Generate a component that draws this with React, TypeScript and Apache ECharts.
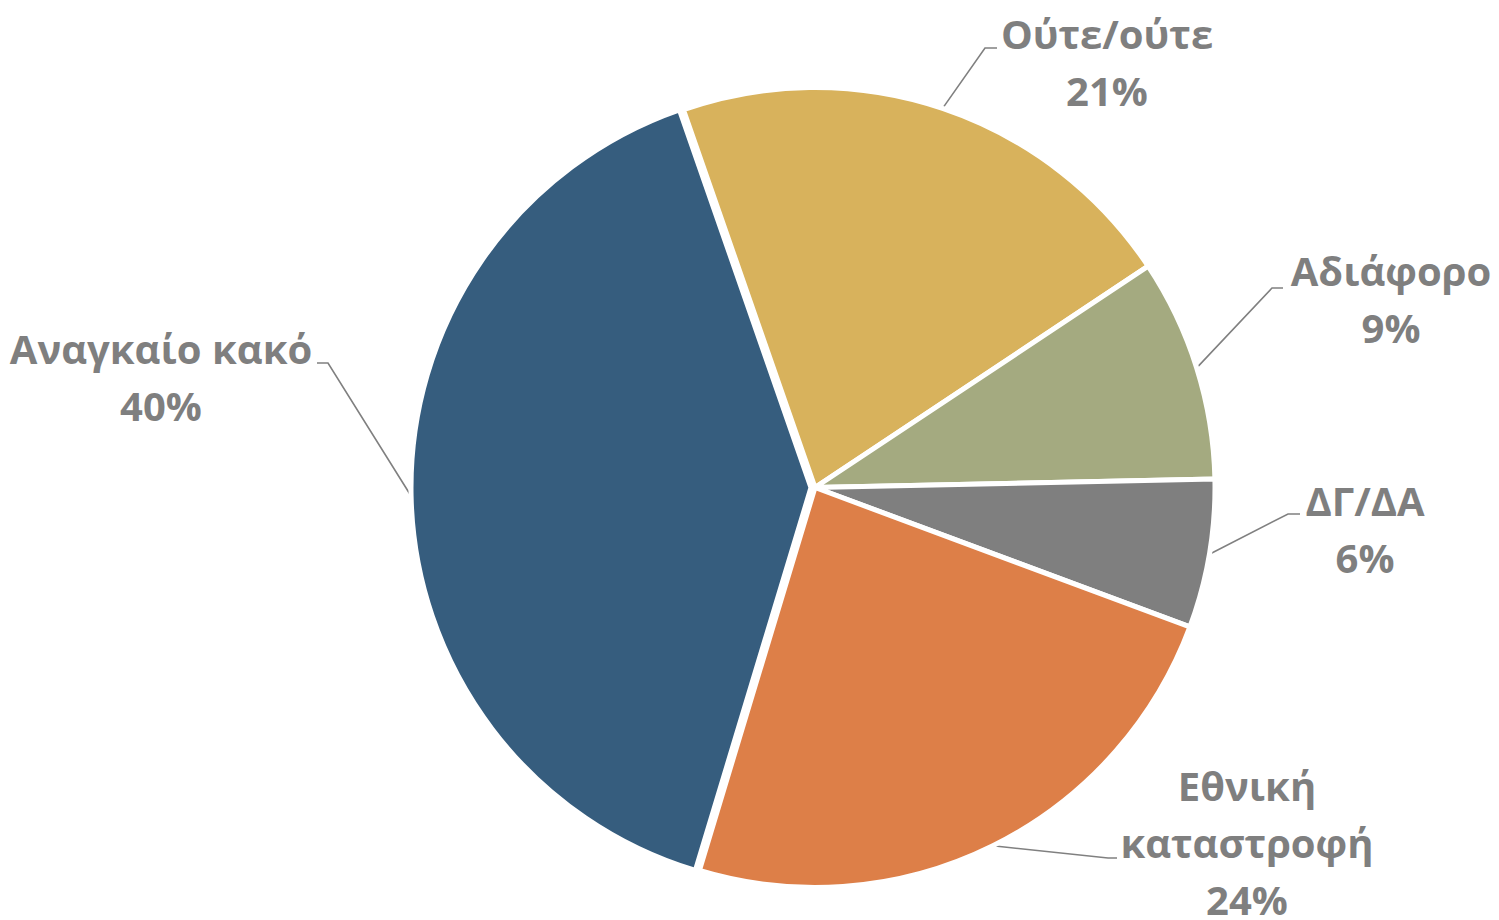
import React, { useEffect, useRef } from "react";
import * as echarts from "echarts";

// ---- Data ----
const categories: string[] = ["Ούτε/ούτε", "Αδιάφορο", "ΔΓ/ΔΑ", "Εθνική καταστροφή", "Αναγκαίο κακό"];
const labelTexts: string[] = ["Ούτε/ούτε", "Αδιάφορο", "ΔΓ/ΔΑ", "Εθνική\nκαταστροφή", "Αναγκαίο κακό"];
const values: number[] = [21, 9, 6, 24, 40];
const colors: string[] = ["#D8B25C", "#A4AA80", "#7F7F7F", "#DD7F48", "#365D7E"];
const explodedIndex = 4;

// ---- Label layout (positions of label blocks and leader-line bends) ----
const labelLayouts = [
  { x: 1107, y: 5, elbow: [985, 48], end: [997, 48] },
  { x: 1391, y: 242, elbow: [1272, 288], end: [1283, 288] },
  { x: 1365, y: 472, elbow: [1288, 514], end: [1300, 514] },
  { x: 1247, y: 757, elbow: [1108, 858], end: [1117, 858] },
  { x: 161, y: 320, elbow: [328, 363], end: [317, 363] },
];

const PIE_CENTER = [815, 487.5];
const EXPLODE = 4;

export default function App() {
  const ref = useRef<HTMLDivElement>(null);

  useEffect(() => {
    if (!ref.current) return;
    const chart = echarts.init(ref.current, undefined, { renderer: "svg" });

    const labelStyle = {
      show: true,
      position: "outside",
      color: "#7F7F7F",
      fontFamily: "Open Sans",
      fontWeight: "bold",
      fontSize: 40,
      lineHeight: 57,
      align: "center",
      formatter: (p: any) => `${labelTexts[p.dataIndex]}\n${p.percent}%`,
    };
    const labelLine = {
      show: true,
      length: 20,
      length2: 10,
      lineStyle: { color: "#808080", width: 1.6 },
    };
    const labelLayout = (params: any) => {
      const l = labelLayouts[params.dataIndex];
      const start =
        params.labelLinePoints && params.labelLinePoints[0]
          ? params.labelLinePoints[0]
          : l.elbow;
      return {
        x: l.x,
        y: l.y,
        align: "center",
        verticalAlign: "top",
        labelLinePoints: [start, l.elbow, l.end],
      };
    };
    const hidden = {
      itemStyle: { color: "rgba(0,0,0,0)", borderWidth: 0 },
      label: { show: false },
      labelLine: { show: false },
    };

    // explode direction = mid-angle of the exploded slice
    const total = values.reduce((a, b) => a + b, 0);
    const startAngle = 109.2;
    let acc = 0;
    for (let i = 0; i < explodedIndex; i++) acc += values[i];
    const midDeg = startAngle - ((acc + values[explodedIndex] / 2) / total) * 360;
    const midRad = (midDeg * Math.PI) / 180;
    const explodedCenter = [
      PIE_CENTER[0] + EXPLODE * Math.cos(midRad),
      PIE_CENTER[1] - EXPLODE * Math.sin(midRad),
    ];

    const base = {
      type: "pie",
      radius: 400,
      startAngle,
      clockwise: true,
      avoidLabelOverlap: false,
      percentPrecision: 0,
      itemStyle: { borderColor: "#ffffff", borderWidth: 5 },
      emphasis: { disabled: true },
      label: labelStyle,
      labelLine,
      labelLayout,
    };

    const option: any = {
      animation: false,
      backgroundColor: "#ffffff",
      series: [
        {
          ...base,
          center: PIE_CENTER,
          data: categories.map((name, i) =>
            i === explodedIndex
              ? { name, value: values[i], ...hidden }
              : { name, value: values[i], itemStyle: { color: colors[i] } }
          ),
        },
        {
          ...base,
          center: explodedCenter,
          data: categories.map((name, i) =>
            i === explodedIndex
              ? { name, value: values[i], itemStyle: { color: colors[i] } }
              : { name, value: values[i], ...hidden }
          ),
        },
      ],
    };
    chart.setOption(option);
    return () => chart.dispose();
  }, []);

  return (
    <div
      ref={ref}
      style={{ position: "absolute", left: 0, top: 0, width: 1499, height: 920 }}
    />
  );
}
